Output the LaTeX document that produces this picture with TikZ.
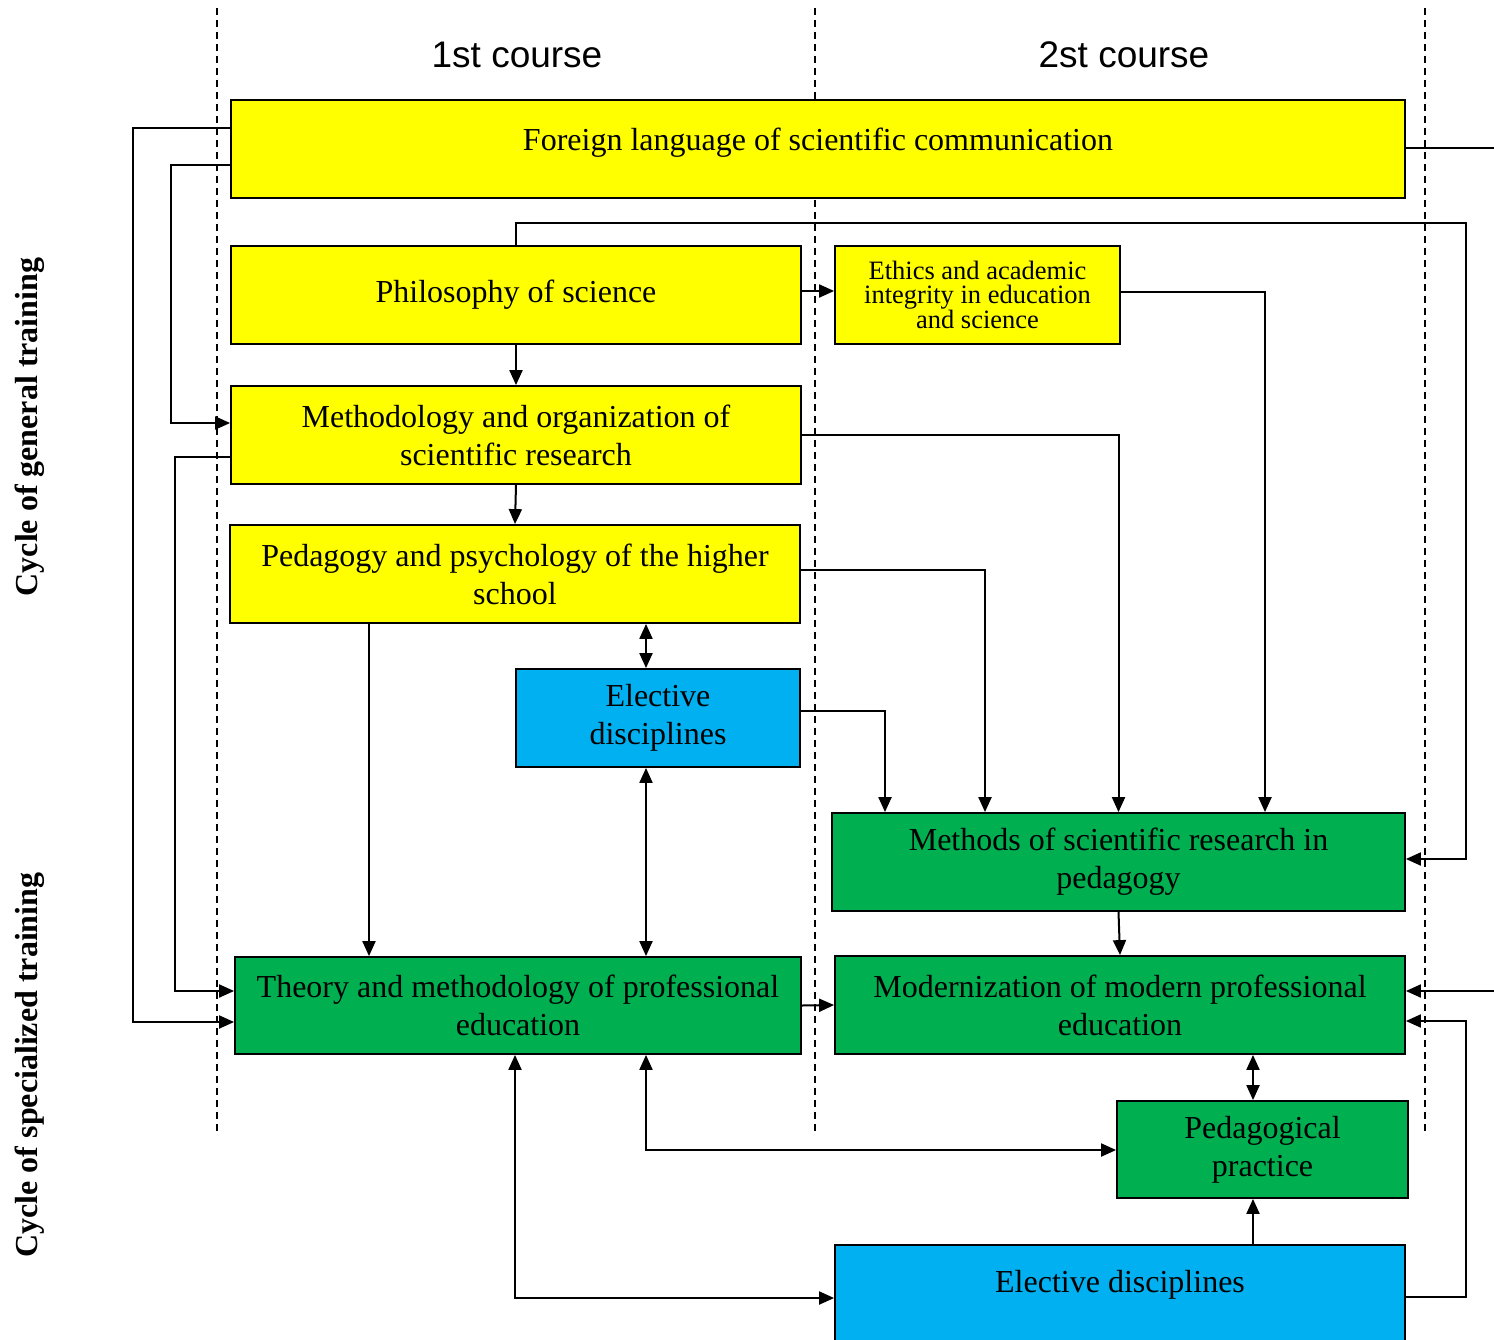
\documentclass[tikz,border=0pt]{standalone}
\usepackage{fontspec}
\setmainfont{Liberation Serif}
\newfontfamily\headfont{Liberation Sans}
\usetikzlibrary{arrows.meta,calc}
\definecolor{boxyellow}{HTML}{FFFF00}
\definecolor{boxblue}{HTML}{00B0F0}
\definecolor{boxgreen}{HTML}{00B050}
\begin{document}
\begin{tikzpicture}[x=1pt,y=-1pt,
  >={Triangle[length=15pt,width=13pt]},
  box/.style={draw=black,line width=1.8pt,inner sep=0pt,align=center,
    font=\fontsize{32}{38}\selectfont},
  ybox/.style={box,fill=boxyellow},
  bbox/.style={box,fill=boxblue},
  gbox/.style={box,fill=boxgreen},
  conn/.style={line width=2pt,draw=black},
  guide/.style={line width=1.4pt,dash pattern=on 7pt off 5pt},
  head/.style={font=\headfont\fontsize{37}{42}\selectfont},
  side/.style={rotate=90,font=\bfseries\fontsize{32}{36}\selectfont}]
\useasboundingbox (0,0) rectangle (1494,1339);
% guides
\draw[guide] (217,8) -- (217,1135);
\draw[guide] (815,8) -- (815,1135);
\draw[guide] (1425,8) -- (1425,1135);
% headers
\node[head] (h1) at (517,55) {1st course};
\node[head] (h2) at (1124,55) {2st course};
\node[side] (s1) at (30,427) {Cycle of general training};
\node[side] (s2) at (30,1065) {Cycle of specialized training};
% boxes
\node[ybox,minimum width=1174pt,minimum height=98pt,text height=22pt,text depth=19pt] (fl) at (818,149) {Foreign language of scientific communication};
\node[ybox,minimum width=570pt,minimum height=98pt] (ph) at (516,295) {Philosophy of science};
\node[ybox,minimum width=285pt,minimum height=98pt,font=\fontsize{26.5}{24}\selectfont] (et) at (977.5,295) {Ethics and academic\\integrity in education\\and science};
\node[ybox,minimum width=570pt,minimum height=98pt] (me) at (516,435) {Methodology and organization of\\scientific research};
\node[ybox,minimum width=570pt,minimum height=98pt] (pe) at (515,574) {Pedagogy and psychology of the higher\\school};
\node[bbox,minimum width=284pt,minimum height=98pt] (e1) at (658,718) {Elective\\disciplines};
\node[gbox,minimum width=573pt,minimum height=98pt] (ms) at (1118.5,862) {Methods of scientific research in\\pedagogy};
\node[gbox,minimum width=566pt,minimum height=97pt] (th) at (518,1005.5) {Theory and methodology of professional\\education};
\node[gbox,minimum width=570pt,minimum height=98pt] (mo) at (1120,1005) {Modernization of modern professional\\education};
\node[gbox,minimum width=291pt,minimum height=97pt] (pp) at (1262.5,1149.5) {Pedagogical\\practice};
\node[bbox,minimum width=570pt,minimum height=100pt,text height=22pt,text depth=28pt] (e2) at (1120,1295) {Elective disciplines};
% free ends
\coordinate (outA) at (1494,148);
\coordinate (inB) at (1494,991);
% connectors
\draw[conn,->] (fl.west |- 0,128) -| (133,1022) -- (th.west |- 0,1022);
\draw[conn,->] (fl.west |- 0,165) -| (171,423) -- (me.west |- 0,423);
\draw[conn,->] (me.west |- 0,457) -| (175,991) -- (th.west |- 0,991);
\draw[conn] (fl.east |- outA) -- (outA);
\draw[conn,->] (inB) -- (mo.east |- inB);
\draw[conn,->] (ph.north) |- (1466,223) |- (ms.east |- 0,859);
\draw[conn,->] (ph.east |- 0,291) -- (et.west |- 0,291);
\draw[conn,->] (et.east |- 0,292) -| (ms.north -| 1265,0);
\draw[conn,->] (ph.south) -- (me.north);
\draw[conn,->] (me.east) -| (ms.north);
\draw[conn,->] (me.south) -- (pe.north);
\draw[conn,->] (pe.east |- 0,570) -| (ms.north -| 985,0);
\draw[conn,->] (pe.south -| 369,0) -- (th.north -| 369,0);
\draw[conn,<->] (pe.south -| 646,0) -- (e1.north -| 646,0);
\draw[conn,->] (e1.east |- 0,711) -| (ms.north -| 885,0);
\draw[conn,<->] (e1.south -| 646,0) -- (th.north -| 646,0);
\draw[conn,->] (ms.south) -- (mo.north);
\draw[conn,->] (th.east) -- (mo.west);
\draw[conn,<->] (mo.south -| 1253,0) -- (pp.north -| 1253,0);
\draw[conn,<->] (th.south -| 646,0) |- (pp.west |- 0,1150);
\draw[conn,<->] (th.south -| 515,0) |- (e2.west |- 0,1298);
\draw[conn,->] (e2.north -| 1253,0) -- (pp.south -| 1253,0);
\draw[conn,->] (e2.east |- 0,1297) -| (1466,1021) -- (mo.east |- 0,1021);
\end{tikzpicture}
\end{document}
